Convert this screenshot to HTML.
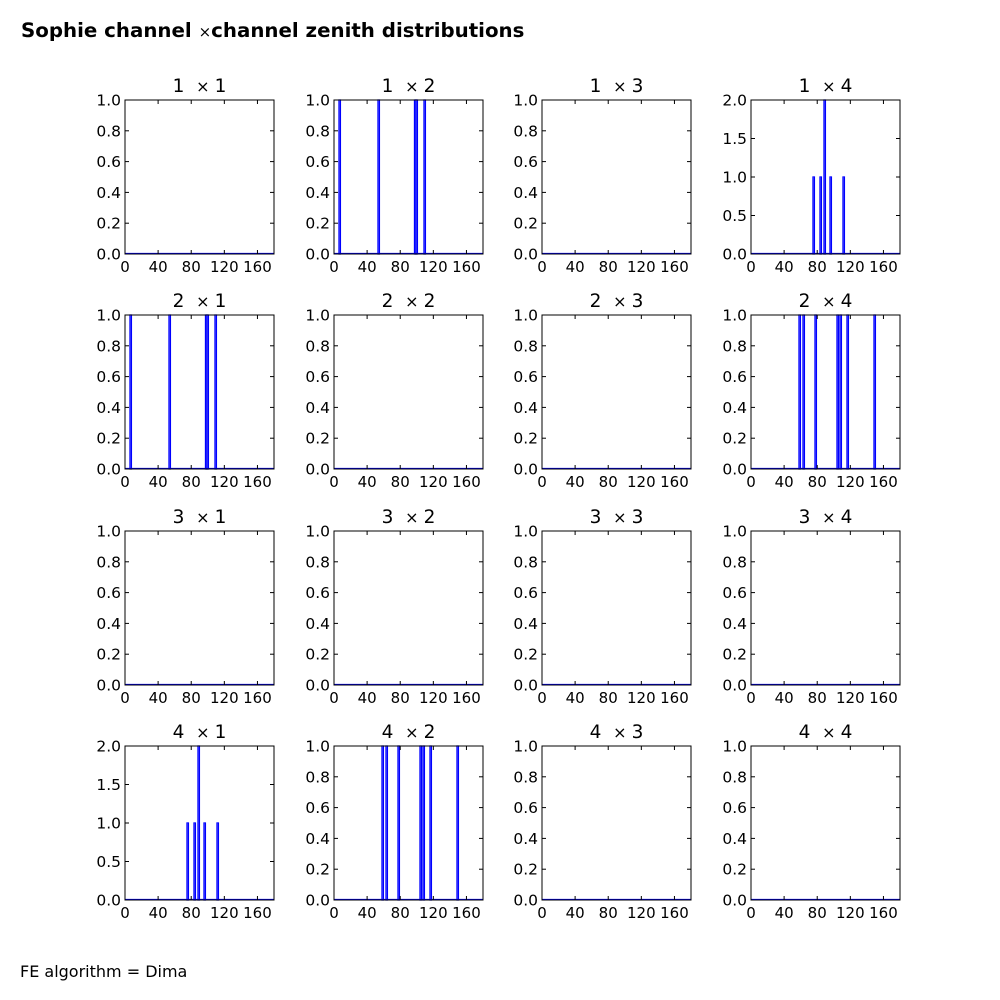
<!DOCTYPE html>
<html><head><meta charset="utf-8"><style>body{margin:0;background:#fff}svg{display:block}</style></head>
<body>
<svg id="s" width="1000" height="1000" xmlns="http://www.w3.org/2000/svg" font-family="DejaVu Sans, Liberation Sans, sans-serif">
<rect width="1000" height="1000" fill="#fff"/>
<text x="21" y="37" font-size="19.8" font-weight="bold">Sophie channel <tspan font-size="15" font-weight="normal">×</tspan>channel zenith distributions</text>
<text x="20" y="977" font-size="16">FE algorithm = Dima</text>
<g id="g"></g>
</svg>
<script>
const L=[125,334,542,751],T=[100,315,531,746],W=149,H=154;
const B=[48,52,64,86,89,96,123];
const data={"0,1":{b:[5,44,80.5,82,90].map(x=>[x,1]),m:1},
"1,0":{b:[5,44,80.5,82,90].map(x=>[x,1]),m:1},
"0,3":{b:[[62,1],[69,1],[73,2],[79,1],[92,1]],m:2},
"3,0":{b:[[62,1],[69,1],[73,2],[79,1],[92,1]],m:2},
"1,3":{b:B.map(x=>[x,1]),m:1},"3,1":{b:B.map(x=>[x,1]),m:1}};
let s='';
for(let r=0;r<4;r++)for(let c=0;c<4;c++){
 const x0=L[c],y0=T[r],d=data[r+","+c]||{b:[],m:1};
 s+=`<text x="${x0+W/2}" y="${y0-8}" font-size="18.5" text-anchor="middle" xml:space="preserve">${r+1}  <tspan font-size="16">× </tspan>${c+1}</text>`;
 for(const [bx,h] of d.b){const hh=H*h/d.m;s+=`<rect x="${x0+bx}" y="${y0+H-hh}" width="1.4" height="${hh}" fill="none" stroke="#00f" stroke-width="1.3"/>`;}
 s+=`<line x1="${x0}" y1="${y0+H-0.5}" x2="${x0+W}" y2="${y0+H-0.5}" stroke="#00f" stroke-width="1.3"/>`;
 s+=`<rect x="${x0}" y="${y0}" width="${W}" height="${H}" fill="none" stroke="#000" stroke-width="1"/>`;
 for(const v of [0,40,80,120,160]){const x=x0+v*W/180;
  s+=`<line x1="${x}" y1="${y0+H}" x2="${x}" y2="${y0+H-4}" stroke="#000"/><line x1="${x}" y1="${y0}" x2="${x}" y2="${y0+4}" stroke="#000"/>`;
  s+=`<text x="${x}" y="${y0+H+18}" font-size="15" text-anchor="middle">${v}</text>`;}
 const ys=d.m==2?[0,0.5,1,1.5,2]:[0,0.2,0.4,0.6,0.8,1];
 for(const v of ys){const y=y0+H-v/d.m*H;
  s+=`<line x1="${x0}" y1="${y}" x2="${x0+4}" y2="${y}" stroke="#000"/><line x1="${x0+W}" y1="${y}" x2="${x0+W-4}" y2="${y}" stroke="#000"/>`;
  s+=`<text x="${x0-4}" y="${y+5.5}" font-size="15.5" text-anchor="end">${v.toFixed(1)}</text>`;}
}
document.getElementById('g').innerHTML=s;
</script>
</body></html>
